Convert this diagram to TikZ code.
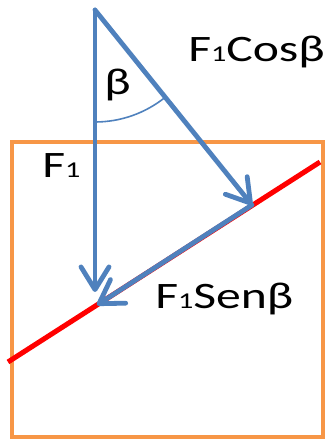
\documentclass[tikz,border=0pt]{standalone}
\usepackage{fontspec}
\setmainfont{Carlito}
\usetikzlibrary{arrows.meta}
\definecolor{fblue}{HTML}{4F81BD}
\definecolor{forange}{HTML}{F79646}
\newcommand{\sub}[1]{{\fontsize{17}{17}\selectfont #1}}
\newcommand{\wide}[1]{\scalebox{1.33}[1]{#1}}
\tikzset{
  force/.style={draw=fblue, line width=3.6pt, line cap=round,
    -{Straight Barb[length=17pt,width=21pt,line cap=round,line join=round]}},
  lbl/.style={font=\fontsize{28}{30}\selectfont, inner sep=0pt, anchor=base west},
}
\begin{document}
\begin{tikzpicture}[x=0.75pt,y=0.75pt]
\useasboundingbox (0,0) rectangle (328,440);
\draw[forange, line width=2.3pt] (12,3) rectangle (323,298);
\coordinate (A) at (95,430);
\coordinate (B) at (95,148);
\coordinate (C) at (252,235);
\coordinate (D) at (97,135);
\coordinate (R1) at (8,78);
\coordinate (R2) at (320,278);
\draw[red, line width=3.8pt] (R1) -- (R2);
\draw[fblue, line width=1.2pt] ([shift={(270:112)}]A) arc[start angle=270, end angle=308.8, radius=112];
\draw[force] (A) -- (B);
\draw[force] (A) -- (C);
\draw[force] (C) -- (D);
\node[lbl] (beta) at (104,345) {\wide{β}};
\node[lbl] (cos) at (188,378) {\wide{F\sub{1}Cosβ}};
\node[lbl] (sen) at (155,132) {\wide{F\sub{1}Senβ}};
\node[lbl] (f1) at (42,262) {\wide{F\sub{1}}};
\end{tikzpicture}
\end{document}
